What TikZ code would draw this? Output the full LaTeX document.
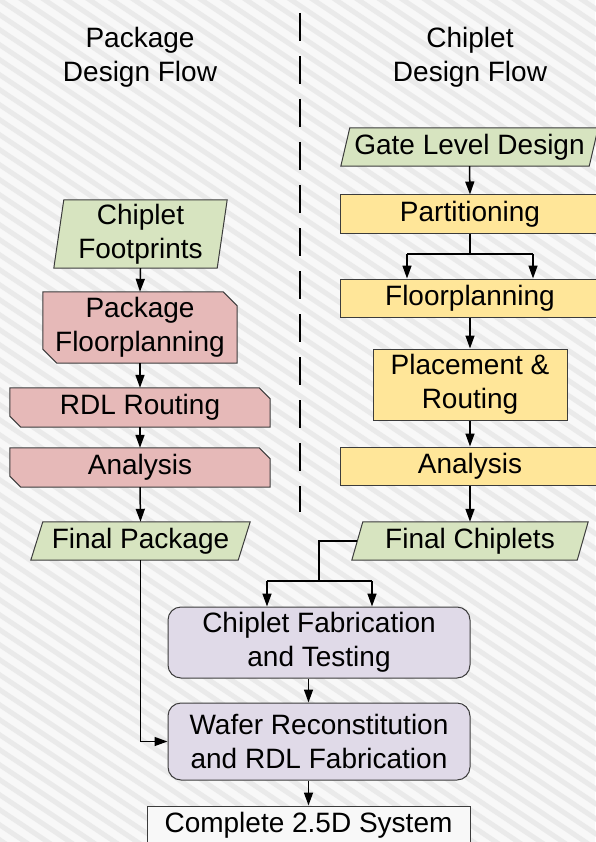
\documentclass[tikz,border=0pt]{standalone}
\usepackage{fontspec}
\setmainfont{Liberation Sans}
\usetikzlibrary{arrows.meta,calc}

\definecolor{bgbase}{HTML}{F8F8F8}
\definecolor{bgstripe}{HTML}{EAEAEA}
\definecolor{edgegray}{HTML}{3C3C3C}
\definecolor{ingreen}{HTML}{D7E4C0}
\definecolor{pkgpink}{HTML}{E6B9B8}
\definecolor{chipyellow}{HTML}{FFE699}
\definecolor{fablilac}{HTML}{E0DAE8}
\definecolor{endwhite}{HTML}{F8F8F8}

\pgfdeclarelayer{back}
\pgfdeclarelayer{shp}
\pgfsetlayers{back,shp,main}

% outline of a slanted input/output box drawn behind its node
\newcommand\paraout[3]{%
  \path[shapeline,fill=#3] (#1.south west) -- ([xshift=#2]#1.north west)
    -- (#1.north east) -- ([xshift=-#2]#1.south east) -- cycle;}
% outline of a box with the top-right and bottom-left corners cut off
\newcommand\chamout[3]{%
  \path[shapeline,fill=#3] ([xshift=#2]#1.south west) -- (#1.south east)
    -- ([yshift=-#2]#1.north east) -- ([xshift=-#2]#1.north east)
    -- (#1.north west) -- ([yshift=#2]#1.south west) -- cycle;}

\tikzset{
  shapeline/.style={draw=edgegray,line width=1pt},
  lbl/.style={inner sep=0pt,align=center,font=\fontsize{28}{34}\selectfont},
  boxat/.style n args={2}{lbl,minimum width=#1pt,minimum height=#2pt},
  plainbox/.style={draw=edgegray,line width=1pt},
  roundbox/.style={plainbox,rounded corners=13pt,fill=fablilac},
  wire/.style={draw=black,line width=1.5pt},
  arr/.style={wire,-{Triangle[length=13pt,width=9pt]}},
}

\begin{document}
\begin{tikzpicture}[x=1pt,y=-1pt]
\useasboundingbox (0,0) rectangle (595,842);

% hatched backdrop
\begin{pgfonlayer}{back}
  \fill[bgbase] (0,0) rectangle (595,842);
  \foreach \k in {-27,...,57}
    \draw[bgstripe,line width=5pt] (-10,{\k*15-6.7}) -- (605,{\k*15+405});
\end{pgfonlayer}

% column headings and divider
\node[lbl] (ttlP) at (140,57) {Package\\Design Flow};
\node[lbl] (ttlC) at (470,57) {Chiplet\\Design Flow};
\draw[line width=1.8pt,dash pattern=on 28pt off 15pt] (300,13) -- (300,512);

% package design flow
\node[boxat={173}{68}] (cfp) at (140.5,234) {Chiplet\\Footprints};
\node[boxat={194}{71}] (pfl) at (140,327.5) {Package\\Floorplanning};
\node[boxat={260}{39}] (rdl) at (140,407.5) {RDL Routing};
\node[boxat={260}{39}] (anl) at (140,467.5) {Analysis};
\node[boxat={219}{38}] (fpk) at (140.5,541) {Final Package};

% chiplet design flow
\node[boxat={257}{38}] (gld) at (469.5,147) {Gate Level Design};
\node[boxat={260}{38},plainbox,fill=chipyellow] (prt) at (470,214) {Partitioning};
\node[boxat={260}{38},plainbox,fill=chipyellow] (fpl) at (470,298) {Floorplanning};
\node[boxat={194}{71},plainbox,fill=chipyellow] (pnr) at (470,384.5) {Placement \&\\Routing};
\node[boxat={260}{38},plainbox,fill=chipyellow] (anr) at (470,466) {Analysis};
\node[boxat={236}{38}] (fch) at (470,541) {Final Chiplets};

% fabrication and assembly
\node[boxat={302}{71},roundbox] (cft) at (319,642.5) {Chiplet Fabrication\\and Testing};
\node[boxat={302}{77},roundbox] (wrf) at (319,741.5) {Wafer Reconstitution\\and RDL Fabrication};
\node[boxat={323}{38},plainbox,fill=endwhite] (cmp) at (308.5,825) {Complete 2.5D System};

% outlines of the non-rectangular boxes
\begin{pgfonlayer}{shp}
  \paraout{cfp}{10pt}{ingreen}
  \paraout{fpk}{12pt}{ingreen}
  \paraout{gld}{9pt}{ingreen}
  \paraout{fch}{11pt}{ingreen}
  \chamout{pfl}{14pt}{pkgpink}
  \chamout{rdl}{11pt}{pkgpink}
  \chamout{anl}{11pt}{pkgpink}
\end{pgfonlayer}

% junction points
\coordinate (pfL) at (407,254);
\coordinate (pfR) at (533,254);
\coordinate (cj)  at (319,581);
\coordinate (cfL) at (267,581);
\coordinate (cfR) at (372,581);

% package flow connectors
\draw[arr] (cfp.south) -- (pfl.north);
\draw[arr] (pfl.south) -- (rdl.north);
\draw[arr] (rdl.south) -- (anl.north);
\draw[arr] (anl.south) -- (fpk.north);
\draw[arr] (fpk.south) |- (wrf.west);

% chiplet flow connectors
\draw[arr] (gld.south) -- (prt.north);
\draw[wire] (prt.south) -- (prt.south |- pfL);
\draw[wire] (pfL) -- (pfR);
\draw[arr] (pfL) -- (pfL |- fpl.north);
\draw[arr] (pfR) -- (pfR |- fpl.north);
\draw[arr] (fpl.south) -- (pnr.north);
\draw[arr] (pnr.south) -- (anr.north);
\draw[arr] (anr.south) -- (fch.north);

% fabrication connectors
\draw[wire] ([xshift=5.5pt]fch.west) -| (cj);
\draw[wire] (cfL) -- (cfR);
\draw[arr] (cfL) -- (cfL |- cft.north);
\draw[arr] (cfR) -- (cfR |- cft.north);
\draw[arr] (cft.south -| cmp.north) -- (wrf.north -| cmp.north);
\draw[arr] (wrf.south -| cmp.north) -- (cmp.north);
\end{tikzpicture}
\end{document}
